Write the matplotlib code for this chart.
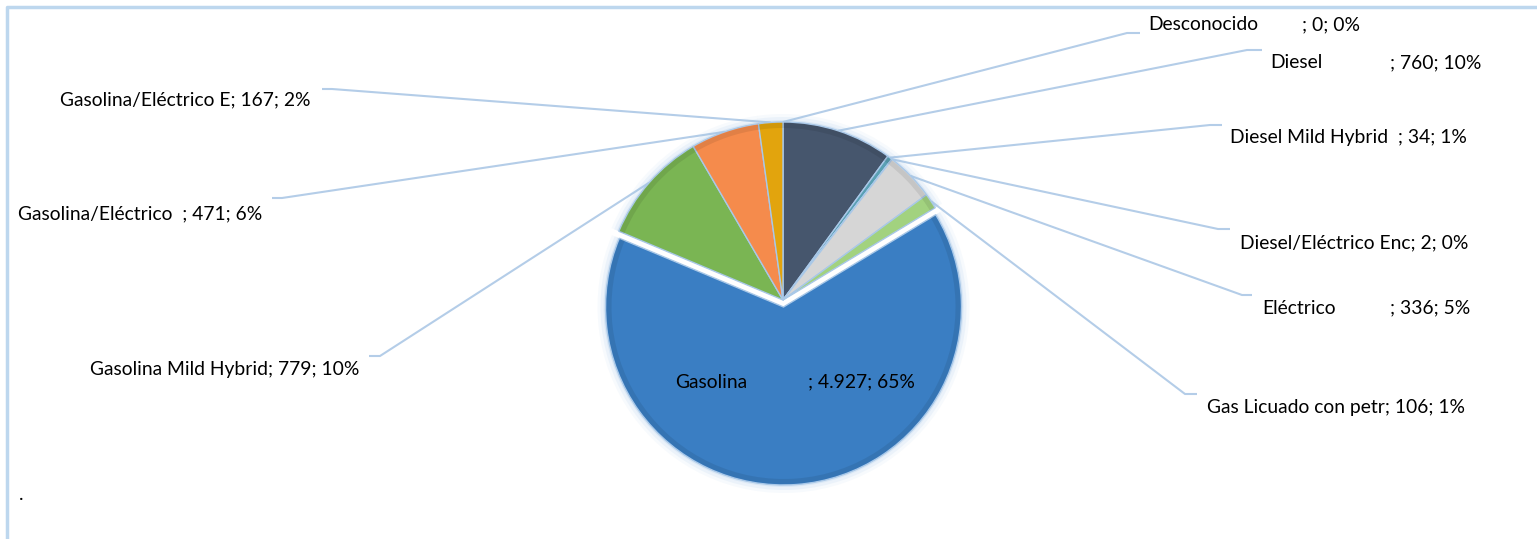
import numpy as np
import matplotlib.pyplot as plt
from matplotlib.patches import Wedge

plt.rcParams['font.family'] = ['Lato', 'DejaVu Sans']

W, H = 1537, 539

# datos (orden de las porciones, en sentido horario desde arriba)
categorias = ['Desconocido', 'Diesel', 'Diesel Mild Hybrid', 'Diesel/Eléctrico Enc',
              'Eléctrico', 'Gas Licuado con petr', 'Gasolina', 'Gasolina Mild Hybrid',
              'Gasolina/Eléctrico', 'Gasolina/Eléctrico E']
valores = [0, 760, 34, 2, 336, 106, 4927, 779, 471, 167]
porcentajes = [0, 10, 1, 0, 5, 1, 65, 10, 6, 2]
colores = ['#8c8c8c', '#46566d', '#5aa0b4', '#8fb8d8', '#d6d6d6', '#a2d27f',
           '#3a7ec3', '#7ab553', '#f58b4c', '#e2a40d']

# posicion de etiquetas en pixeles de imagen:
# (x nombre, x sufijo o None, y texto, codo x, codo y, fin x)
posiciones = [
    (1148, 1302, 25, 1127, 33, 1140),
    (1270, 1390, 63, 1247, 50, 1262),
    (1230, None, 137, 1210, 125, 1222),
    (1240, None, 243, 1218, 229, 1230),
    (1262, 1390, 308, 1242, 295, 1252),
    (1207, None, 407, 1185, 394, 1197),
    (675, 808, 382, None, None, None),
    (90, None, 370, 380, 356, 369),
    (18, None, 214, 282, 198, 272),
    (60, None, 100, 332, 89, 322),
]
separador = {'Diesel Mild Hybrid': '  ', 'Gasolina/Eléctrico': '  '}
fs = 13.9

def fmt(v):
    return f'{v:,}'.replace(',', '.')

def iy(y):
    return H - y

fig = plt.figure(figsize=(W / 100, H / 100), dpi=100)
ax = fig.add_axes([0, 0, 1, 1])

cx, cy, r = 783, iy(300), 178
explode = [0] * len(valores)
explode[categorias.index('Gasolina')] = 7

# brillo alrededor del circulo
for extra, alfa in [(8, 0.08), (5, 0.13), (2, 0.22)]:
    ax.pie(valores, radius=r + extra, center=(cx, cy), explode=explode, startangle=90,
           counterclock=False, colors=['#9dc3e6'] * len(valores),
           wedgeprops=dict(linewidth=0, alpha=alfa))

wedges, _ = ax.pie(valores, radius=r, center=(cx, cy), explode=explode, startangle=90,
                   counterclock=False, colors=colores,
                   wedgeprops=dict(edgecolor='#a9c8e8', linewidth=1.0))

# bisel: anillo exterior algo mas oscuro
for w in wedges:
    ax.add_patch(Wedge(w.center, w.r - 1, w.theta1, w.theta2, width=5,
                       facecolor='black', edgecolor='none', alpha=0.08))

linea = '#b4cde8'
for i, w in enumerate(wedges):
    nombre = categorias[i]
    sufijo = f'; {fmt(valores[i])}; {porcentajes[i]}%'
    nx, sx, ty, ex, ey, fx = posiciones[i]
    if sx is None:
        ax.text(nx, iy(ty), nombre + separador.get(nombre, '') + sufijo, fontsize=fs,
                ha='left', va='center', color='black')
    else:
        ax.text(nx, iy(ty), nombre, fontsize=fs, ha='left', va='center', color='black')
        ax.text(sx, iy(ty), sufijo, fontsize=fs, ha='left', va='center', color='black')
    if ex is not None:
        ang = np.deg2rad((w.theta1 + w.theta2) / 2)
        ax_x = w.center[0] + w.r * np.cos(ang)
        ax_y = w.center[1] + w.r * np.sin(ang)
        ax.plot([ax_x, ex, fx], [ax_y, iy(ey), iy(ey)], color=linea, linewidth=1.5,
                solid_capstyle='butt', zorder=0)

# borde del area del grafico
ax.plot([7, 7, W + 5], [0, iy(7), iy(7)], color='#bdd7ee', linewidth=2.5)
ax.text(19, iy(495), '.', fontsize=fs, ha='left', va='center')

ax.set_xlim(0, W)
ax.set_ylim(0, H)
ax.set_aspect('equal')
ax.axis('off')
fig.savefig('out.png', dpi=100, facecolor='white')
